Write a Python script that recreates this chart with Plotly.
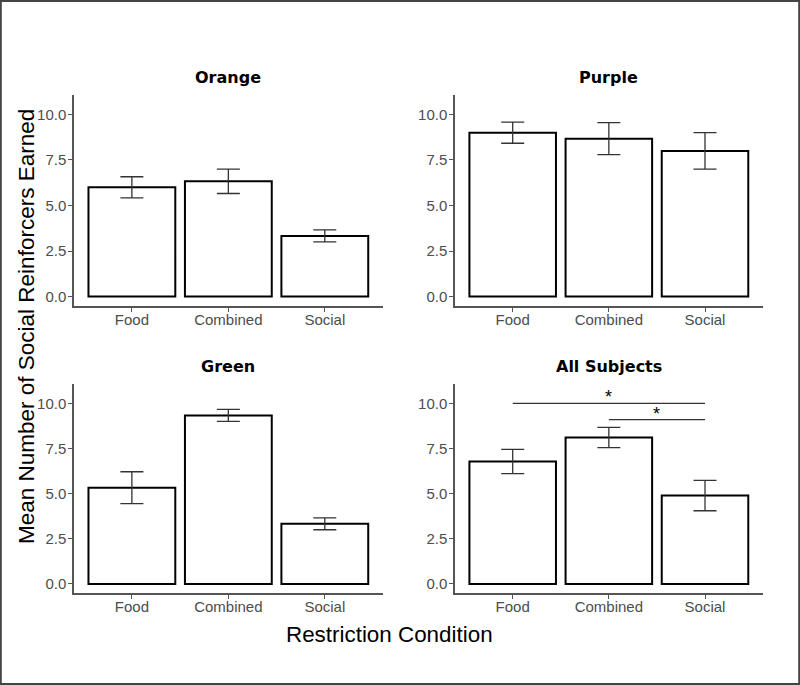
import plotly.graph_objects as go

# ---- data ----
categories = ["Food", "Combined", "Social"]
panels = ["Orange", "Purple", "Green", "All Subjects"]
orange_mean = [6.0, 6.33, 3.33]
orange_se = [0.58, 0.67, 0.33]
purple_mean = [9.0, 8.67, 8.0]
purple_se = [0.58, 0.88, 1.0]
green_mean = [5.33, 9.33, 3.33]
green_se = [0.88, 0.33, 0.33]
all_mean = [6.78, 8.11, 4.89]
all_se = [0.67, 0.56, 0.84]
y_ticks = [0.0, 2.5, 5.0, 7.5, 10.0]
sig_from = ["Food", "Combined"]
sig_to = ["Social", "Social"]
sig_y = [10.0, 9.1]
sig_label = ["*", "*"]

W, H = 800, 685
means = [orange_mean, purple_mean, green_mean, all_mean]
ses = [orange_se, purple_se, green_se, all_se]

# panel pixel boxes: (left, right, top, bottom)
boxes = [(74, 382.7, 95, 306), (455, 762.7, 95, 306),
         (74, 382.7, 384, 593.3), (455, 762.7, 384, 593.3)]

fig = go.Figure()
AX = "#555555"
TICKFONT = dict(family="Liberation Sans, Arial, sans-serif", size=15, color="#4D4D4D")

for i, (name, m, s, b) in enumerate(zip(panels, means, ses, boxes)):
    n = "" if i == 0 else str(i + 1)
    fig.add_trace(go.Bar(
        x=categories, y=m, width=0.9,
        marker=dict(color="white", line=dict(color="black", width=2)),
        error_y=dict(type="data", array=s, visible=True, color="#333333",
                     thickness=1.3, width=11.5),
        xaxis="x" + n, yaxis="y" + n, showlegend=False))
    l, r, t, bt = b
    fig.layout["xaxis" + n] = dict(
        domain=[l / W, r / W], anchor="y" + n, type="category",
        categoryorder="array", categoryarray=categories,
        range=[-0.6, 2.6], showline=True, linecolor=AX, linewidth=1.5,
        ticks="outside", ticklen=4, tickcolor=AX, tickwidth=1.3,
        ticklabelstandoff=-5,
        showgrid=False, zeroline=False, tickfont=TICKFONT)
    fig.layout["yaxis" + n] = dict(
        domain=[1 - bt / H, 1 - t / H], anchor="x" + n,
        range=[-0.52, 11.07], tickvals=y_ticks,
        ticktext=["%.1f" % v for v in y_ticks],
        showline=True, linecolor=AX, linewidth=1.5,
        ticks="outside", ticklen=4, tickcolor=AX, tickwidth=1.3,
        ticklabelstandoff=-1,
        showgrid=False, zeroline=False, tickfont=TICKFONT)
    fig.add_annotation(
        text="<b>%s</b>" % name, xref="paper", yref="paper",
        x=(l + r) / 2 / W, y=1 - (t - 17.5) / H, xanchor="center", yanchor="middle",
        showarrow=False, font=dict(family="DejaVu Sans", size=16, color="black"))

# significance brackets on All Subjects panel
for a, bcat, yv, lab in zip(sig_from, sig_to, sig_y, sig_label):
    fig.add_trace(go.Scatter(
        x=[a, bcat], y=[yv, yv], mode="lines",
        line=dict(color="#333333", width=1.3),
        xaxis="x4", yaxis="y4", showlegend=False, hoverinfo="skip"))
    mid = (categories.index(a) + categories.index(bcat)) / 2
    fig.add_annotation(
        text=lab, x=mid, y=yv, xref="x4", yref="y4",
        xanchor="center", yanchor="bottom", yshift=-6, showarrow=False,
        font=dict(family="Liberation Sans, Arial", size=18, color="black"))

# axis titles
fig.add_annotation(
    text="Mean Number of Social Reinforcers Earned", xref="paper", yref="paper",
    x=26 / W, y=1 - 327 / H, textangle=-90, showarrow=False,
    xanchor="center", yanchor="middle",
    font=dict(family="Liberation Sans, Arial", size=22.5, color="black"))
fig.add_annotation(
    text="Restriction Condition", xref="paper", yref="paper",
    x=389.5 / W, y=1 - 634 / H, showarrow=False,
    xanchor="center", yanchor="middle",
    font=dict(family="Liberation Sans, Arial", size=22.4, color="black"))

# outer border
fig.add_shape(type="rect", xref="paper", yref="paper",
              x0=0.001, x1=0.999, y0=0.0015, y1=0.9985,
              line=dict(color="#444444", width=2), fillcolor="rgba(0,0,0,0)")

fig.update_layout(
    width=W, height=H, margin=dict(l=0, r=0, t=0, b=0),
    paper_bgcolor="white", plot_bgcolor="white", bargap=0.1)

fig.write_html("out.html", config={"displayModeBar": False},
               post_script="document.body.style.margin='0';document.body.style.overflow='hidden';")
